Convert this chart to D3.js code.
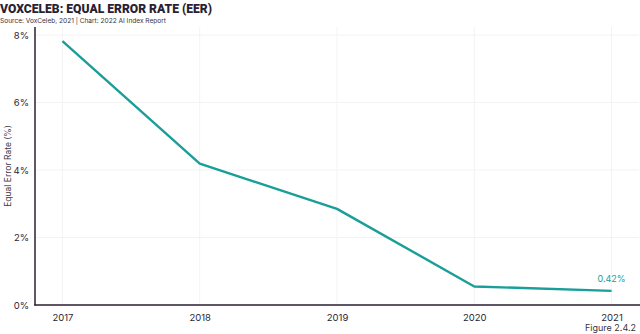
<!DOCTYPE html>
<html>
<head>
<meta charset="utf-8">
<script src="https://cdn.jsdelivr.net/npm/d3@7"></script>
<style>
  body { margin: 0; background: #fff; }
  svg { display: block; font-family: Inter, "Noto Sans", sans-serif; }
</style>
</head>
<body>
<svg width="640" height="334"></svg>
<script>
// chart data
const years = ['2017', '2018', '2019', '2020', '2021']
const eer = [7.82, 4.19, 2.85, 0.55, 0.42]
const yTicks = [0, 2, 4, 6, 8]

const svg = d3.select('svg')
const width = 640
const height = 334
const margin = {top: 27, right: 1, bottom: 29, left: 35}

const teal = '#199e99'
const ink = '#2b1f33'

const xScale = d3.scalePoint()
    .domain(years)
    .range([margin.left, width - margin.right])
    .padding(0.2)

const yScale = d3.scaleLinear()
    .domain([0, 8.24])
    .range([height - margin.bottom, margin.top])

// title + source
svg.append('text')
    .attr('x', 0).attr('y', 13)
    .attr('font-size', 13.2).attr('font-weight', 900)
    .attr('font-family', 'Roboto, sans-serif')
    .attr('fill', ink)
    .attr('textLength', 212)
    .attr('lengthAdjust', 'spacingAndGlyphs')
    .text('VOXCELEB: EQUAL ERROR RATE (EER)')
svg.append('text')
    .attr('x', 0).attr('y', 22.5)
    .attr('font-size', 6.8)
    .attr('fill', '#3a3340')
    .attr('textLength', 166)
    .attr('lengthAdjust', 'spacingAndGlyphs')
    .text('Source: VoxCeleb, 2021 | Chart: 2022 AI Index Report')

// grid
svg.append('g')
    .selectAll('line.h')
    .data(yTicks)
    .enter()
    .append('line')
    .attr('x1', margin.left).attr('x2', width - margin.right)
    .attr('y1', d => yScale(d)).attr('y2', d => yScale(d))
    .attr('stroke', '#f4f3f4').attr('stroke-width', 1)
svg.append('g')
    .selectAll('line.v')
    .data(years)
    .enter()
    .append('line')
    .attr('x1', d => xScale(d)).attr('x2', d => xScale(d))
    .attr('y1', margin.top).attr('y2', height - margin.bottom)
    .attr('stroke', '#f4f3f4').attr('stroke-width', 1)

// axes
const yAxis = d3.axisLeft(yScale)
    .tickValues(yTicks)
    .tickSize(0)
    .tickPadding(6)
    .tickFormat(d => d + '%')
const gy = svg.append('g')
    .attr('transform', 'translate(' + margin.left + ',0)')
    .call(yAxis)
gy.select('.domain').remove()
gy.selectAll('text').attr('font-size', 9.5).attr('fill', ink).attr('font-family', 'Inter, sans-serif')

const xAxis = d3.axisBottom(xScale).tickSize(0).tickPadding(9)
const gx = svg.append('g')
    .attr('transform', 'translate(0,' + (height - margin.bottom) + ')')
    .call(xAxis)
gx.select('.domain').remove()
gx.selectAll('text').attr('font-size', 9.5).attr('fill', ink).attr('font-family', 'Inter, sans-serif')

svg.append('line')
    .attr('x1', margin.left).attr('x2', margin.left)
    .attr('y1', margin.top).attr('y2', height - margin.bottom + 0.5)
    .attr('stroke', ink).attr('stroke-width', 1.5)
svg.append('line')
    .attr('x1', margin.left - 0.75).attr('x2', width)
    .attr('y1', height - margin.bottom).attr('y2', height - margin.bottom)
    .attr('stroke', ink).attr('stroke-width', 1.5)

// y label
svg.append('text')
    .attr('transform', 'translate(11,' + ((margin.top + height - margin.bottom) / 2) + ') rotate(-90)')
    .attr('text-anchor', 'middle')
    .attr('font-size', 8.5)
    .attr('fill', '#3a3340')
    .text('Equal Error Rate (%)')

// line
const line = d3.line()
    .x((d, i) => xScale(years[i]))
    .y(d => yScale(d))
svg.append('path')
    .datum(eer)
    .attr('d', line)
    .attr('fill', 'none')
    .attr('stroke', teal)
    .attr('stroke-width', 2.4)
    .attr('stroke-linejoin', 'round')

// end label
const last = eer.length - 1
svg.append('text')
    .attr('x', xScale(years[last]))
    .attr('y', yScale(eer[last]) - 9)
    .attr('text-anchor', 'middle')
    .attr('font-size', 9)
    .attr('fill', teal)
    .text(eer[last].toFixed(2) + '%')

svg.append('text')
    .attr('x', 636).attr('y', 331)
    .attr('text-anchor', 'end')
    .attr('font-size', 9)
    .attr('fill', '#3a3340')
    .text('Figure 2.4.2')
</script>
</body>
</html>
